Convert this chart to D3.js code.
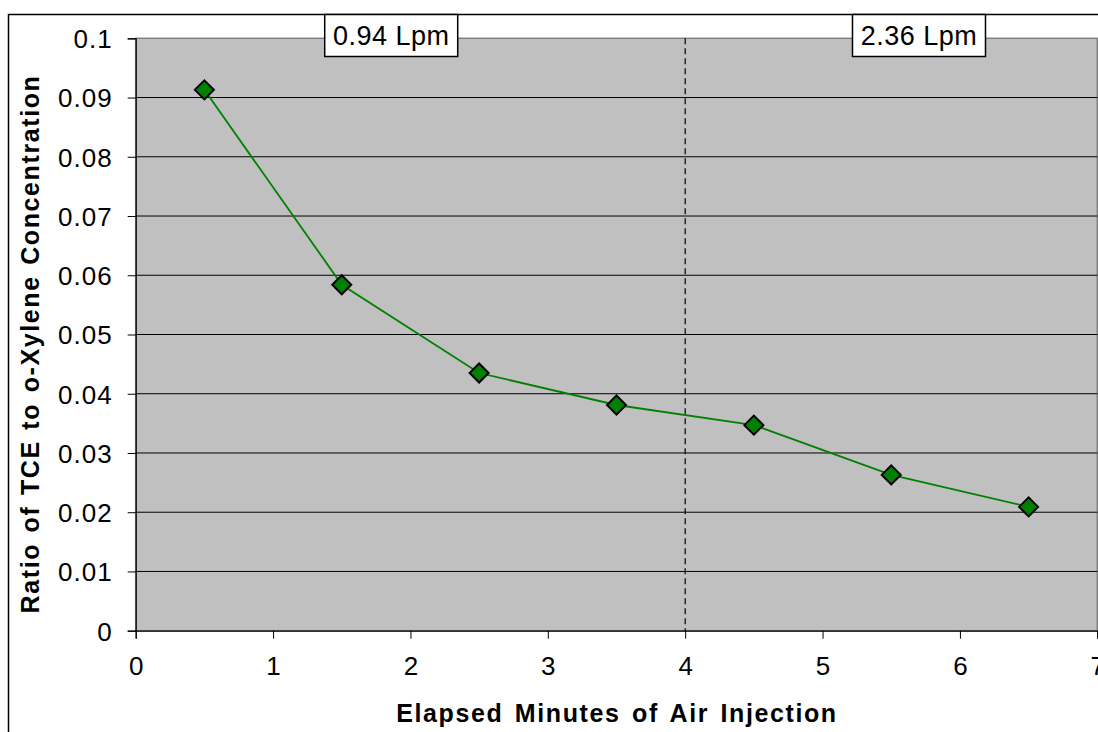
<!DOCTYPE html>
<html><head><meta charset="utf-8">
<script src="https://cdn.jsdelivr.net/npm/d3@7"></script>
<style>body{margin:0;background:#fff}svg{display:block}text{font-family:"Liberation Sans",Arial,sans-serif}</style>
</head><body><svg id="c" width="1098" height="732"></svg>
<script>
const minutes = [0.5, 1.5, 2.5, 3.5, 4.5, 5.5, 6.5];
const ratios = [0.0913, 0.0584, 0.0435, 0.0381, 0.0347, 0.0263, 0.0209];
const xTicks = [0, 1, 2, 3, 4, 5, 6, 7];
const yTicks = [0, 0.01, 0.02, 0.03, 0.04, 0.05, 0.06, 0.07, 0.08, 0.09, 0.1];
const flowLabels = ["0.94 Lpm", "2.36 Lpm"];
const flowLabelX = [1.86, 5.702];
const changeX = 4;

const svg = d3.select("#c");
const L = 135.7, R = 1097.3, T = 38.3, B = 630.7;
const x = d3.scaleLinear().domain([0, 7]).range([L, R]);
const y = d3.scaleLinear().domain([0, 0.1]).range([B, T]);

// outer frame
svg.append("path").attr("d", `M8.5,732 L8.5,14.5 L1098,14.5`).attr("fill", "none").attr("stroke", "#000").attr("stroke-width", 1.5);

// plot area
svg.append("rect").attr("x", L).attr("y", T).attr("width", R - L).attr("height", B - T)
  .attr("fill", "#c0c0c0").attr("stroke", "#808080").attr("stroke-width", 1.5);

// gridlines
svg.append("g").selectAll("line").data(yTicks.filter(d => d > 0 && d < 0.1)).join("line")
  .attr("x1", L).attr("x2", R).attr("y1", d => y(d)).attr("y2", d => y(d))
  .attr("stroke", "#000").attr("stroke-width", 1);

// axes
const yAxis = d3.axisLeft(y).tickValues(yTicks).tickFormat(d => d3.format("")(+d.toFixed(2))).tickSize(8).tickPadding(15);
const gy = svg.append("g").attr("transform", `translate(${L},0)`).call(yAxis);
gy.selectAll("text").attr("font-size", 26).attr("letter-spacing", 1).attr("fill", "#000").attr("dy", "0.36em");
gy.selectAll("line").attr("stroke", "#000");
gy.select(".domain").attr("stroke", "#000").attr("stroke-width", 1.2);

const xAxis = d3.axisBottom(x).tickValues(xTicks).tickFormat(d3.format("d")).tickSize(8).tickPadding(18);
const gx = svg.append("g").attr("transform", `translate(0,${B})`).call(xAxis);
gx.selectAll("text").attr("font-size", 26).attr("fill", "#000");
gx.selectAll("line").attr("stroke", "#000");
gx.select(".domain").attr("stroke", "#000").attr("stroke-width", 1.2);

// dashed divider
svg.append("line").attr("x1", x(changeX)).attr("x2", x(changeX)).attr("y1", T).attr("y2", B)
  .attr("stroke", "#000").attr("stroke-width", 1.2).attr("stroke-dasharray", "6,4");

// line
const pts = minutes.map((m, i) => [m, ratios[i]]);
svg.append("path").datum(pts).attr("fill", "none").attr("stroke", "#008000").attr("stroke-width", 1.8)
  .attr("d", d3.line().x(d => x(d[0])).y(d => y(d[1])));

// markers
svg.append("g").selectAll("path").data(pts).join("path")
  .attr("transform", d => `translate(${x(d[0])},${y(d[1])})`)
  .attr("d", "M0,-9.5 L9.5,0 L0,9.5 L-9.5,0 Z")
  .attr("fill", "#008000").attr("stroke", "#000").attr("stroke-width", 2);

// flow labels
flowLabels.forEach((t, i) => {
  const cx = x(flowLabelX[i]);
  const g = svg.append("g");
  g.append("rect").attr("x", cx - 66.5).attr("y", 14.5).attr("width", 133).attr("height", 42)
    .attr("fill", "#fff").attr("stroke", "#000").attr("stroke-width", 1.5);
  g.append("text").attr("x", cx).attr("y", 45).attr("text-anchor", "middle")
    .attr("font-size", 27).attr("letter-spacing", 0.5).text(t);
});

// axis titles
svg.append("text").attr("x", 617).attr("y", 722).attr("text-anchor", "middle")
  .attr("font-size", 25).attr("letter-spacing", 1.6).attr("word-spacing", 3).attr("font-weight", "bold").text("Elapsed Minutes of Air Injection");
svg.append("text").attr("transform", "translate(39,344) rotate(-90)").attr("text-anchor", "middle")
  .attr("font-size", 25).attr("letter-spacing", 1.6).attr("word-spacing", 2).attr("font-weight", "bold").text("Ratio of TCE to o-Xylene Concentration");
</script></body></html>
